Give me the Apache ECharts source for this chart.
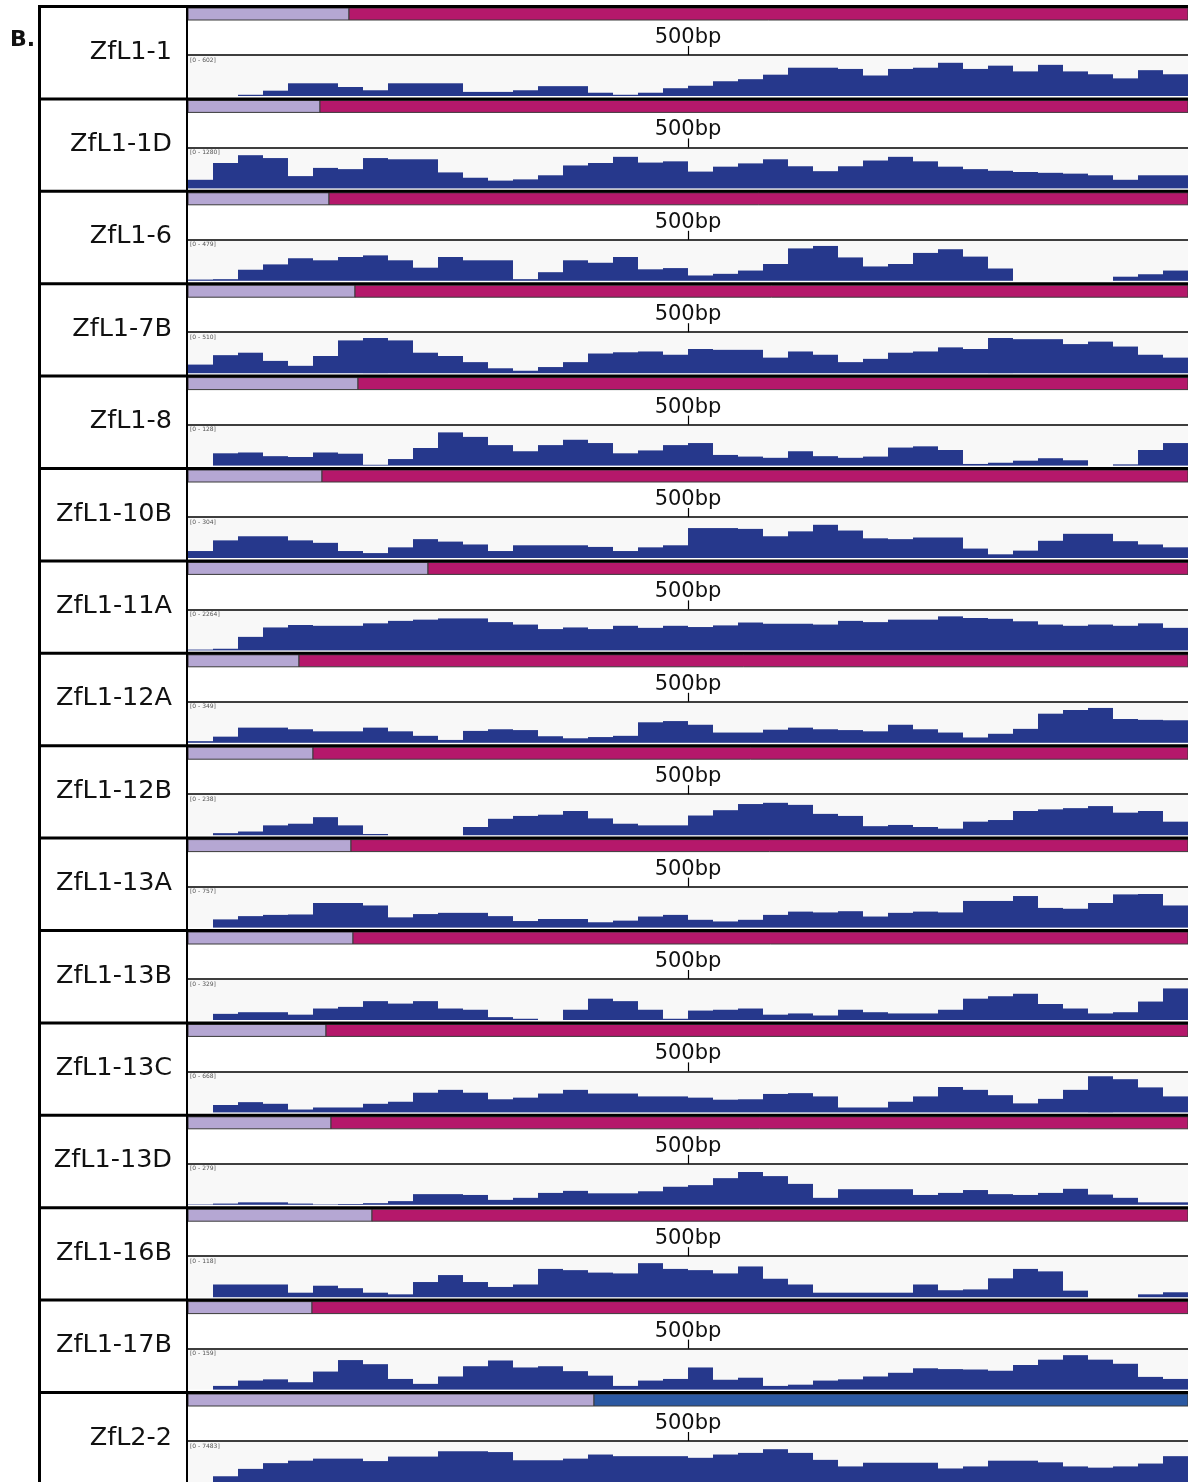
<!DOCTYPE html>
<html>
<head>
<meta charset="utf-8">
<script src="https://cdn.jsdelivr.net/npm/echarts@6/dist/echarts.min.js"></script>
<style>
  html, body { margin: 0; padding: 0; background: #ffffff; }
  #chart { width: 1188px; height: 1482px; }
</style>
</head>
<body>
<div id="chart"></div>
<script>
// ---- Tracks -------------------------------------------------------------
const trackNames = [
  'ZfL1-1', 'ZfL1-1D', 'ZfL1-6', 'ZfL1-7B', 'ZfL1-8', 'ZfL1-10B', 'ZfL1-11A', 'ZfL1-12A',
  'ZfL1-12B', 'ZfL1-13A', 'ZfL1-13B', 'ZfL1-13C', 'ZfL1-13D', 'ZfL1-16B', 'ZfL1-17B', 'ZfL2-2'
];
const rangeLabels = [
  '[0 - 602]', '[0 - 1280]', '[0 - 479]', '[0 - 510]', '[0 - 128]', '[0 - 304]', '[0 - 2264]', '[0 - 349]',
  '[0 - 238]', '[0 - 757]', '[0 - 329]', '[0 - 668]', '[0 - 279]', '[0 - 118]', '[0 - 159]', '[0 - 7483]'
];
// end of the 5' region (bp) on each transcript, the rest is the coding part
const utrEnd = [161, 132, 141, 167, 170, 134, 240, 111, 125, 163, 165, 138, 143, 184, 124, 406];
const codingKind = ['L1', 'L1', 'L1', 'L1', 'L1', 'L1', 'L1', 'L1', 'L1', 'L1', 'L1', 'L1', 'L1', 'L1', 'L1', 'L2'];
const GENE_LEN = 1000;
const RULER_MARK = 500;

// 25 bp coverage bins
const binStarts = [
  0, 25, 50, 75, 100, 125, 150, 175, 200, 225, 250, 275, 300, 325, 350, 375, 400, 425, 450, 475,
  500, 525, 550, 575, 600, 625, 650, 675, 700, 725, 750, 775, 800, 825, 850, 875, 900, 925, 950, 975
];

// coverage per bin, % of each track's data range
const covZfL1_1   = [0,0,3,13,31,31,22,14,31,31, 31,10,10,14,24,24,8,3,8,19, 25,36,41,52,69,69,66,50,66,69, 81,66,74,60,76,60,53,43,63,53];
const covZfL1_1D  = [21,62,81,74,30,50,47,74,71,71, 39,26,19,22,32,56,62,77,63,66, 41,53,61,71,54,42,54,68,77,66, 53,47,43,40,38,36,32,21,32,32];
const covZfL1_6   = [3,4,27,40,55,50,58,62,50,32, 58,50,50,4,21,50,44,58,28,31, 13,17,25,41,79,85,57,35,41,68, 77,59,30,0,0,0,0,10,16,25];
const covZfL1_7B  = [21,44,50,30,18,42,80,86,80,50, 42,27,12,6,15,27,48,51,53,45, 59,57,57,38,53,45,27,35,50,53, 63,59,86,83,83,71,77,65,45,38];
const covZfL1_8   = [0,30,32,23,21,32,29,2,16,43, 81,70,50,35,50,63,55,30,37,50, 55,26,22,19,35,23,19,22,44,47, 38,4,7,12,18,13,0,3,38,55];
const covZfL1_10B = [17,43,53,53,43,37,17,12,26,46, 40,33,17,31,31,31,27,17,26,31, 73,73,71,53,65,81,67,48,46,50, 50,23,9,18,42,59,59,41,33,26];
const covZfL1_11A = [2,4,33,56,62,60,60,66,72,75, 78,78,69,63,52,56,52,60,55,60, 57,61,68,65,65,63,72,69,75,75, 83,79,77,71,63,60,63,60,66,55];
const covZfL1_12A = [4,15,37,37,33,28,28,37,28,17, 7,29,33,31,16,11,14,17,50,53, 44,25,25,32,37,33,31,28,44,33, 25,13,22,34,71,80,85,58,56,55];
const covZfL1_12B = [0,5,9,24,28,44,24,3,0,0, 0,20,40,47,50,59,41,28,24,24, 48,61,76,79,74,52,47,22,25,20, 16,33,37,59,63,66,71,55,59,33];
const covZfL1_13A = [0,20,28,31,32,60,60,54,25,33, 36,36,28,16,21,21,13,17,27,31, 19,15,19,31,39,37,40,27,36,39, 37,65,65,77,48,46,60,81,82,54];
const covZfL1_13B = [0,15,19,19,13,28,32,46,40,46, 28,25,7,3,0,25,52,46,25,3, 23,25,28,13,16,11,25,19,16,16, 25,52,58,64,39,28,16,19,45,77];
const covZfL1_13C = [0,18,25,21,7,12,12,21,26,48, 55,48,32,36,46,55,46,46,39,39, 36,31,32,45,47,39,12,12,26,39, 62,55,42,22,33,55,88,81,61,39];
const covZfL1_13D = [1,3,6,6,3,1,2,4,9,26, 26,24,12,17,29,34,28,28,33,44, 48,65,80,70,51,17,38,38,38,24, 29,36,26,24,29,39,25,17,6,6];
const covZfL1_16B = [0,31,31,31,11,28,22,11,7,37, 54,37,25,31,69,66,60,58,83,69, 66,58,75,45,31,11,11,11,11,31, 17,19,46,69,63,16,0,0,7,12];
const covZfL1_17B = [0,9,22,25,18,44,72,62,26,14, 32,57,71,54,57,45,34,9,22,26, 54,24,29,9,12,22,25,32,41,52, 50,49,46,60,73,84,73,63,31,26];
const covZfL2_2   = [0,14,32,46,52,57,57,51,62,62, 75,75,73,53,53,57,67,63,63,63, 59,67,71,80,71,54,38,47,47,47, 33,38,52,52,48,38,35,38,45,63];

const coverage = [
  covZfL1_1, covZfL1_1D, covZfL1_6, covZfL1_7B, covZfL1_8, covZfL1_10B, covZfL1_11A, covZfL1_12A,
  covZfL1_12B, covZfL1_13A, covZfL1_13B, covZfL1_13C, covZfL1_13D, covZfL1_16B, covZfL1_17B, covZfL2_2
];

// ---- Styling ------------------------------------------------------------
const UTR_COLOR = '#b5a7d3';
const CODING_COLOR = { L1: '#b5186b', L2: '#2b58a2' };
const COV_COLOR = '#26388c';
const FONT = 'DejaVu Sans, Verdana, sans-serif';

const PANEL_TOP = 6;
const PANEL_H = 92.4;
const TRACK_LEFT = 188;
const TRACK_WIDTH = 1000;
const LABEL_LEFT = 38;

const grids = [], xAxes = [], yAxes = [], series = [], graphics = [];

trackNames.forEach((name, i) => {
  const t = PANEL_TOP + PANEL_H * i;

  // transcript model: 5' part + coding part
  const gGene = grids.length;
  grids.push({ left: TRACK_LEFT, top: t + 2, width: TRACK_WIDTH, height: 12 });
  const xGene = xAxes.length;
  xAxes.push({ gridIndex: gGene, type: 'value', min: 0, max: GENE_LEN, show: false });
  const yGene = yAxes.length;
  yAxes.push({ gridIndex: gGene, type: 'value', min: 0, max: 1, show: false });
  series.push({
    type: 'custom',
    xAxisIndex: xGene,
    yAxisIndex: yGene,
    silent: true,
    data: [[0, utrEnd[i], 0], [utrEnd[i], GENE_LEN, 1]],
    encode: { x: [0, 1] },
    renderItem: (params, api) => {
      const a = api.coord([api.value(0), 1]);
      const b = api.coord([api.value(1), 0]);
      return {
        type: 'rect',
        shape: { x: a[0], y: a[1], width: b[0] - a[0], height: b[1] - a[1] },
        style: {
          fill: api.value(2) === 0 ? UTR_COLOR : CODING_COLOR[codingKind[i]],
          stroke: '#3a3a3a',
          lineWidth: 1
        }
      };
    }
  });

  // coverage histogram with the bp ruler on its top edge
  const gCov = grids.length;
  grids.push({
    left: TRACK_LEFT, top: t + 49, width: TRACK_WIDTH, height: 41,
    show: true, backgroundColor: '#f8f8f8', borderWidth: 0
  });
  const xBins = xAxes.length;
  xAxes.push({ gridIndex: gCov, type: 'category', data: binStarts, show: false, boundaryGap: true });
  xAxes.push({
    gridIndex: gCov, type: 'value', position: 'top', min: 0, max: GENE_LEN,
    axisLine: { show: true, onZero: false, lineStyle: { color: '#000', width: 1.5 } },
    axisTick: { show: true, customValues: [RULER_MARK], length: 9, lineStyle: { color: '#000', width: 1.2 } },
    axisLabel: {
      show: true, customValues: [RULER_MARK], formatter: v => v + 'bp',
      fontSize: 21, fontFamily: FONT, color: '#111', margin: 7
    },
    splitLine: { show: false }
  });
  const yCov = yAxes.length;
  yAxes.push({ gridIndex: gCov, type: 'value', min: 0, max: 100, show: false });
  series.push({
    type: 'bar',
    xAxisIndex: xBins,
    yAxisIndex: yCov,
    data: coverage[i],
    barCategoryGap: '0%',
    barGap: '0%',
    silent: true,
    itemStyle: { color: COV_COLOR }
  });

  // data range tag
  graphics.push({
    type: 'text', left: TRACK_LEFT + 2, top: t + 51,
    style: { text: rangeLabels[i], fontSize: 6, fontFamily: FONT, fill: '#555' }
  });

  // track name
  graphics.push({
    type: 'text', x: 172, y: t + 46,
    style: { text: name, fontSize: 25.5, fontFamily: FONT, fill: '#111', align: 'right', verticalAlign: 'middle' }
  });

  // separator above each panel
  graphics.push({
    type: 'line',
    shape: { x1: LABEL_LEFT, y1: t + 0.5, x2: TRACK_LEFT + TRACK_WIDTH, y2: t + 0.5 },
    style: { stroke: '#000', lineWidth: 3 },
    z: 100
  });
});

// frame of the name column
graphics.push({
  type: 'line', shape: { x1: LABEL_LEFT + 1.5, y1: PANEL_TOP - 1, x2: LABEL_LEFT + 1.5, y2: 1482 },
  style: { stroke: '#000', lineWidth: 3 }, z: 100
});
graphics.push({
  type: 'line', shape: { x1: TRACK_LEFT - 1, y1: PANEL_TOP - 1, x2: TRACK_LEFT - 1, y2: 1482 },
  style: { stroke: '#000', lineWidth: 2 }, z: 100
});

// panel letter
graphics.push({
  type: 'text', x: 10, y: 40,
  style: { text: 'B.', fontSize: 22, fontWeight: 'bold', fontFamily: FONT, fill: '#111', verticalAlign: 'middle' }
});

const chart = echarts.init(document.getElementById('chart'), null, { renderer: 'canvas' });
chart.setOption({
  animation: false,
  backgroundColor: '#ffffff',
  grid: grids,
  xAxis: xAxes,
  yAxis: yAxes,
  series: series,
  graphic: graphics
});
</script>
</body>
</html>
